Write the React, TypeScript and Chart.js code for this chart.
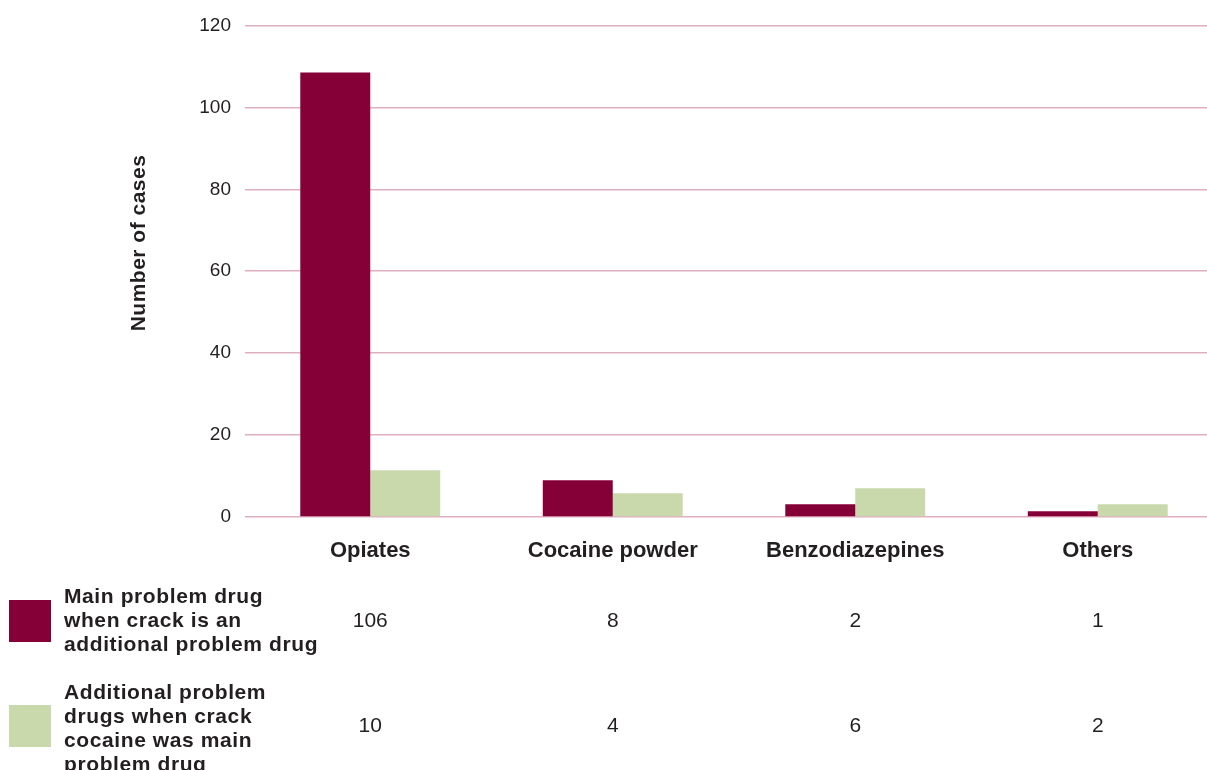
import React, { useEffect, useRef } from "react";
import { Chart, registerables } from "chart.js";

Chart.register(...registerables);

const categories = ["Opiates", "Cocaine powder", "Benzodiazepines", "Others"];
// bar heights as drawn in the picture
const mainBars = [108.5, 9, 3.1, 1.4];
const additionalBars = [11.4, 5.8, 7, 3.1];
// values printed in the table below the chart
const mainTable = ["106", "8", "2", "1"];
const additionalTable = ["10", "4", "6", "2"];
const seriesNames = [
  ["Main problem drug", "when crack is an", "additional problem drug"],
  ["Additional problem", "drugs when crack", "cocaine was main", "problem drug"],
];
const yTicks = [0, 20, 40, 60, 80, 100, 120];
const yTitle = "Number of cases";

const FONT = "'Liberation Sans', Arial, Helvetica, sans-serif";
const TEXT = "#231f20";
const RED = "#860038";
const GREEN = "#c9d9ac";
const GRID = "#deb0bf";

const tablePlugin = {
  id: "tablePlugin",
  afterDraw(chart: any) {
    const ctx = chart.ctx as CanvasRenderingContext2D;
    const xs = chart.scales.x;
    ctx.save();
    // y axis title
    ctx.save();
    ctx.translate(139, 243);
    ctx.rotate(-Math.PI / 2);
    ctx.font = `bold 21px ${FONT}`;
    (ctx as any).letterSpacing = "0.5px";
    ctx.fillStyle = TEXT;
    ctx.textAlign = "center";
    ctx.textBaseline = "middle";
    ctx.fillText(yTitle, 0, 0);
    ctx.restore();

    const rows = [
      { color: RED, lines: seriesNames[0], values: mainTable, boxTop: 600, textTop: 597, valueY: 621 },
      { color: GREEN, lines: seriesNames[1], values: additionalTable, boxTop: 705, textTop: 693, valueY: 726 },
    ];
    rows.forEach((r) => {
      ctx.fillStyle = r.color;
      ctx.fillRect(9, r.boxTop, 42, 42);
      ctx.fillStyle = TEXT;
      ctx.font = `bold 21px ${FONT}`;
      (ctx as any).letterSpacing = "0.6px";
      ctx.textAlign = "left";
      ctx.textBaseline = "middle";
      r.lines.forEach((ln, i) => ctx.fillText(ln, 64, r.textTop + i * 24));
      ctx.font = `21px ${FONT}`;
      (ctx as any).letterSpacing = "0px";
      ctx.textAlign = "center";
      r.values.forEach((v, i) => ctx.fillText(v, xs.getPixelForValue(i), r.valueY));
    });
    ctx.restore();
  },
};

export default function App() {
  const ref = useRef<HTMLCanvasElement>(null);
  useEffect(() => {
    if (!ref.current) return;
    const chart = new Chart(ref.current, {
      type: "bar",
      data: {
        labels: categories,
        datasets: [
          { label: seriesNames[0].join(" "), data: mainBars, backgroundColor: RED, borderWidth: 0 },
          { label: seriesNames[1].join(" "), data: additionalBars, backgroundColor: GREEN, borderWidth: 0 },
        ],
      },
      options: {
        responsive: false,
        animation: false,
        layout: { padding: { top: 25, bottom: 0, left: 0, right: 1 } },
        plugins: { legend: { display: false }, tooltip: { enabled: false } },
        datasets: { bar: { categoryPercentage: 0.577, barPercentage: 1 } },
        scales: {
          x: {
            grid: { display: false },
            border: { display: false },
            ticks: { color: TEXT, font: { family: FONT, size: 22, weight: "bold" }, padding: 13 },
            afterFit: (s: any) => { s.height = 253; },
          },
          y: {
            min: 0,
            max: 120,
            afterBuildTicks: (s: any) => { s.ticks = yTicks.map((v) => ({ value: v })); },
            grid: { color: GRID, lineWidth: 1.5, tickLength: 4, drawTicks: true },
            border: { display: false },
            ticks: { color: TEXT, font: { family: FONT, size: 19 }, padding: 14 },
            afterFit: (s: any) => { s.width = 249; },
          },
        },
      },
      plugins: [tablePlugin],
    } as any);
    return () => chart.destroy();
  }, []);
  return (
    <div style={{ position: "fixed", left: 0, top: 0, width: 1207, height: 770, overflow: "hidden", background: "#fff" }}>
      <canvas ref={ref} width={1220} height={770} style={{ display: "block" }} />
    </div>
  );
}
